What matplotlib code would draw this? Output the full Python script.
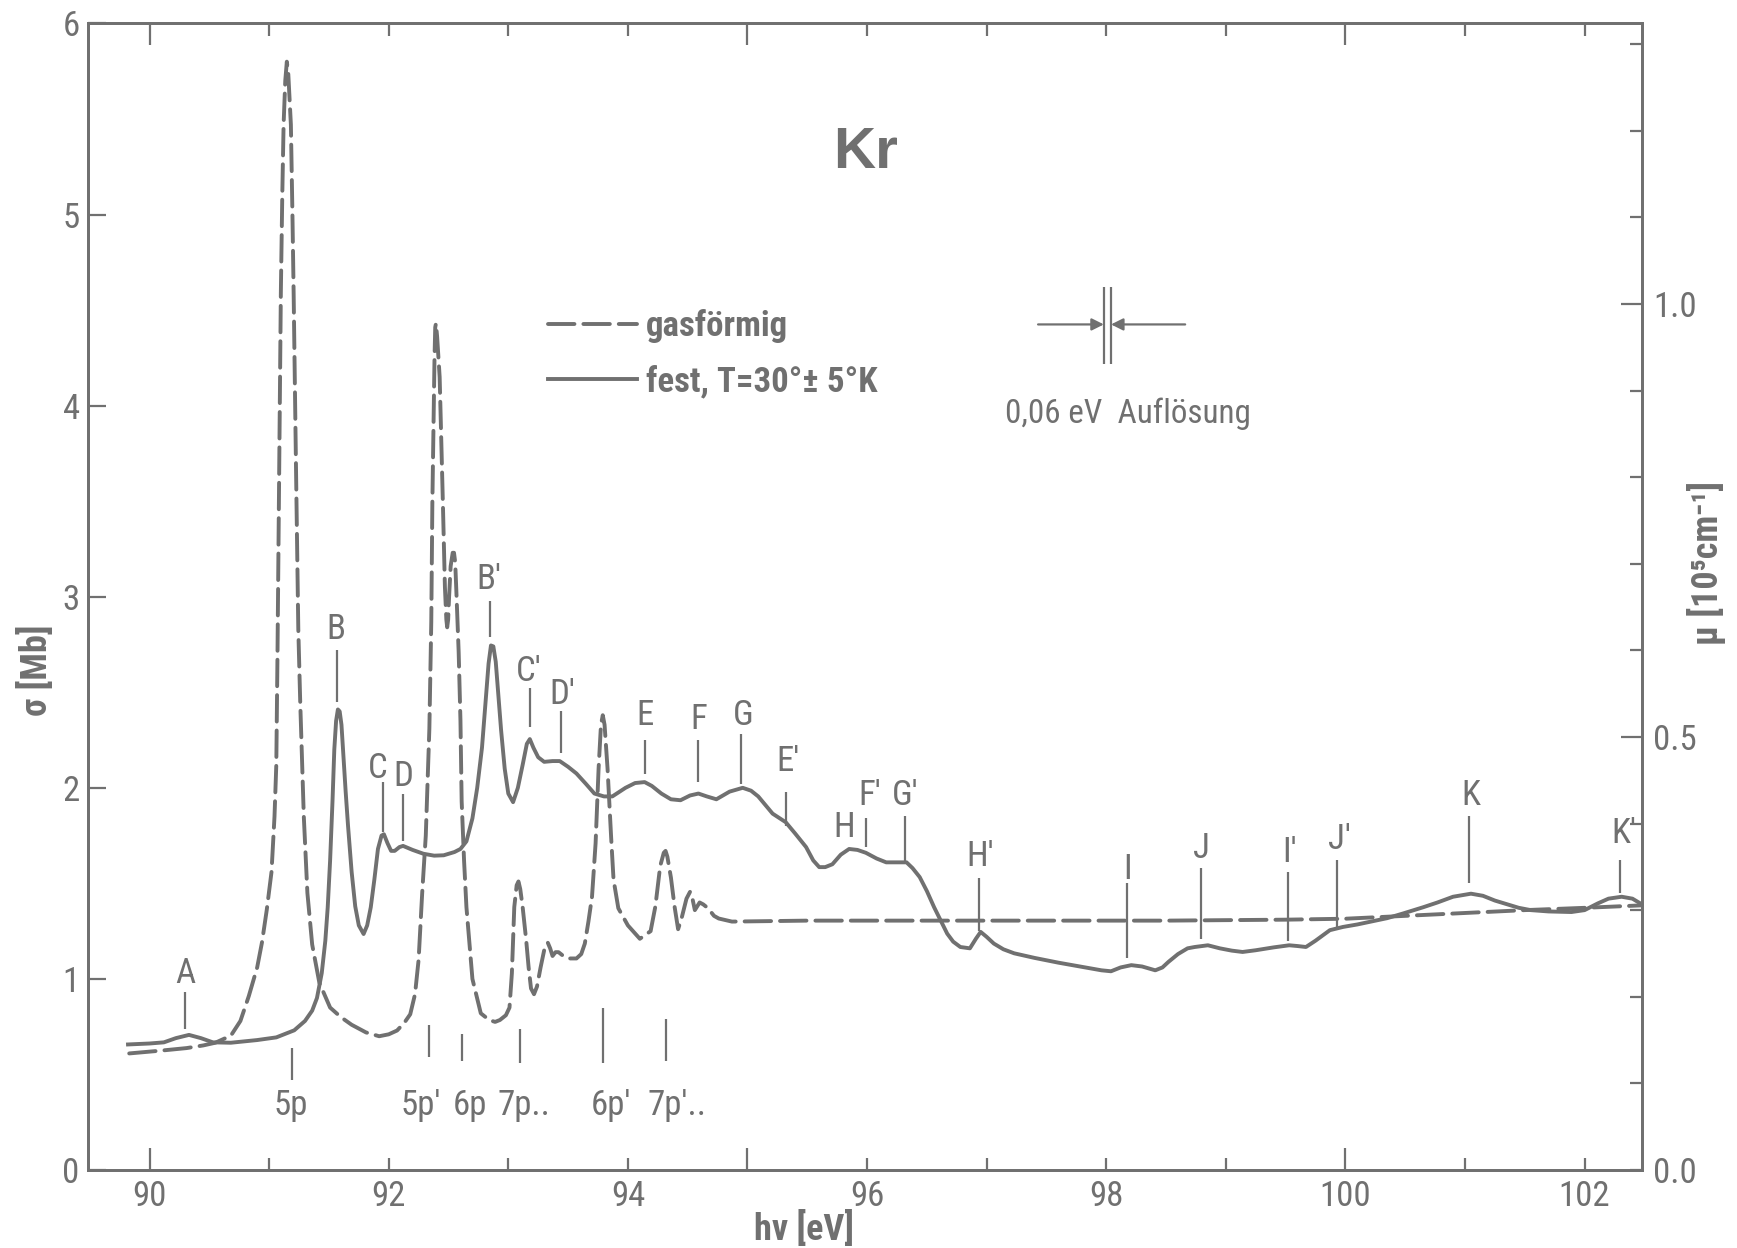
import matplotlib
matplotlib.use("Agg")
import matplotlib.pyplot as plt
import numpy as np
from matplotlib import font_manager
from matplotlib.font_manager import FontProperties
from matplotlib.textpath import TextPath

# ---------------- data ----------------
gas_E = [89.83, 90.10, 90.31, 90.45, 90.55, 90.68, 90.76, 90.83, 90.90, 90.94, 90.98, 91.02, 91.045, 91.06,
         91.07, 91.085, 91.098, 91.11, 91.121, 91.135, 91.148, 91.16, 91.17, 91.182, 91.195, 91.205, 91.224,
         91.244, 91.26, 91.29, 91.32, 91.36, 91.42, 91.51, 91.60, 91.69, 91.81, 91.92, 92.00, 92.07, 92.13,
         92.18, 92.22, 92.25, 92.28, 92.31, 92.34, 92.356, 92.365, 92.375, 92.383, 92.389, 92.395, 92.405,
         92.426, 92.453, 92.47, 92.482, 92.489, 92.497, 92.505, 92.518, 92.535, 92.546, 92.556, 92.565,
         92.585, 92.60, 92.61, 92.63, 92.65, 92.70, 92.77, 92.84, 92.89, 92.93, 92.98, 93.01, 93.03, 93.05,
         93.07, 93.085, 93.10, 93.12, 93.15, 93.17, 93.19, 93.215, 93.24, 93.27, 93.30, 93.33, 93.35, 93.37,
         93.395, 93.42, 93.46, 93.50, 93.57, 93.61, 93.64, 93.67, 93.70, 93.73, 93.755, 93.775, 93.79, 93.805,
         93.83, 93.86, 93.88, 93.92, 94.00, 94.10, 94.19, 94.23, 94.27, 94.30, 94.315, 94.33, 94.36, 94.39,
         94.42, 94.45, 94.49, 94.52, 94.54, 94.56, 94.58, 94.60, 94.63, 94.67, 94.72, 94.76, 94.87, 95.50,
         96.50, 97.50, 98.50, 99.50, 100.0, 100.5, 101.0, 101.5, 102.0, 102.48]
gas_S = [0.61, 0.625, 0.638, 0.652, 0.666, 0.703, 0.78, 0.91, 1.06, 1.19, 1.36, 1.56, 1.85, 2.12,
         2.70, 3.71, 4.59, 5.10, 5.47, 5.70, 5.80, 5.74, 5.62, 5.47, 5.00, 4.59, 3.71,
         2.83, 2.45, 1.85, 1.45, 1.18, 0.98, 0.85, 0.80, 0.76, 0.72, 0.70, 0.71, 0.73, 0.77,
         0.815, 0.92, 1.10, 1.45, 1.75, 2.31, 2.87, 3.49, 3.90, 4.25, 4.41, 4.43, 4.36,
         4.15, 3.49, 3.05, 2.88, 2.84, 2.88, 3.00, 3.16, 3.23, 3.23, 3.18, 3.04,
         2.71, 2.35, 1.93, 1.62, 1.375, 1.0, 0.82, 0.785, 0.775, 0.785, 0.81, 0.85, 1.03, 1.376,
         1.49, 1.51, 1.47, 1.376, 1.20, 1.06, 0.95, 0.92, 0.96, 1.06, 1.15, 1.19, 1.16, 1.12,
         1.14, 1.14, 1.12, 1.107, 1.107, 1.13, 1.185, 1.30, 1.43, 1.71, 2.10, 2.33, 2.38, 2.33,
         2.10, 1.74, 1.52, 1.37, 1.28, 1.21, 1.25, 1.38, 1.59, 1.66, 1.67, 1.64, 1.53, 1.38,
         1.26, 1.32, 1.42, 1.456, 1.42, 1.36, 1.38, 1.40, 1.39, 1.37, 1.33, 1.316, 1.30, 1.305,
         1.305, 1.305, 1.305, 1.31, 1.315, 1.33, 1.345, 1.36, 1.372, 1.385]

sol_E = [89.82, 90.00, 90.12, 90.22, 90.33, 90.43, 90.53, 90.68, 90.90, 91.06, 91.21, 91.30, 91.36, 91.40,
         91.44, 91.47, 91.49, 91.51, 91.53, 91.545, 91.56, 91.575, 91.59, 91.605, 91.62, 91.64, 91.66, 91.69,
         91.72, 91.75, 91.79, 91.82, 91.85, 91.88, 91.91, 91.94, 91.96, 91.99, 92.02, 92.05, 92.09, 92.12,
         92.20, 92.29, 92.38, 92.46, 92.55, 92.60, 92.65, 92.70, 92.74, 92.78, 92.81, 92.835, 92.855, 92.875,
         92.895, 92.915, 92.94, 92.97, 93.00, 93.04, 93.08, 93.12, 93.155, 93.18, 93.21, 93.25, 93.30, 93.37,
         93.43, 93.50, 93.57, 93.65, 93.72, 93.80, 93.87, 93.98, 94.06, 94.14, 94.20, 94.28, 94.36, 94.44,
         94.52, 94.59, 94.66, 94.74, 94.85, 94.96, 95.03, 95.09, 95.15, 95.21, 95.32, 95.40, 95.49, 95.55,
         95.60, 95.65, 95.71, 95.78, 95.85, 95.92, 95.99, 96.08, 96.16, 96.25, 96.33, 96.38, 96.44, 96.50,
         96.56, 96.62, 96.67, 96.72, 96.78, 96.86, 96.91, 96.95, 97.00, 97.06, 97.14, 97.23, 97.40, 97.60,
         97.80, 97.96, 98.04, 98.12, 98.21, 98.30, 98.41, 98.47, 98.52, 98.60, 98.68, 98.74, 98.85, 98.95,
         99.05, 99.14, 99.25, 99.40, 99.53, 99.60, 99.67, 99.75, 99.87, 99.98, 100.10, 100.20, 100.35,
         100.48, 100.65, 100.77, 100.90, 101.05, 101.15, 101.25, 101.33, 101.45, 101.55, 101.70, 101.89,
         102.00, 102.11, 102.20, 102.31, 102.40, 102.48]
sol_S = [0.657, 0.662, 0.668, 0.69, 0.707, 0.69, 0.668, 0.666, 0.68, 0.694, 0.731, 0.78, 0.834, 0.90,
         1.03, 1.20, 1.375, 1.62, 1.93, 2.20, 2.35, 2.41, 2.40, 2.33, 2.18, 1.98, 1.80, 1.56,
         1.38, 1.28, 1.235, 1.28, 1.375, 1.52, 1.68, 1.75, 1.757, 1.71, 1.67, 1.67, 1.69, 1.696,
         1.675, 1.655, 1.645, 1.647, 1.664, 1.68, 1.72, 1.84, 2.00, 2.21, 2.45, 2.65, 2.745, 2.74,
         2.66, 2.50, 2.30, 2.10, 1.97, 1.925, 2.00, 2.12, 2.23, 2.255, 2.21, 2.16, 2.136, 2.14,
         2.14, 2.11, 2.075, 2.02, 1.97, 1.955, 1.955, 2.00, 2.025, 2.03, 2.01, 1.97, 1.94, 1.935,
         1.96, 1.97, 1.955, 1.94, 1.98, 2.00, 1.985, 1.955, 1.91, 1.865, 1.82, 1.76, 1.69, 1.62,
         1.585, 1.585, 1.60, 1.65, 1.68, 1.675, 1.66, 1.63, 1.61, 1.61, 1.61, 1.58, 1.533, 1.46,
         1.376, 1.30, 1.237, 1.195, 1.167, 1.16, 1.21, 1.246, 1.22, 1.185, 1.155, 1.134, 1.11, 1.085,
         1.063, 1.045, 1.04, 1.06, 1.072, 1.065, 1.045, 1.06, 1.089, 1.13, 1.16, 1.167, 1.176, 1.16,
         1.148, 1.141, 1.15, 1.165, 1.176, 1.172, 1.167, 1.20, 1.255, 1.272, 1.285, 1.298, 1.318,
         1.342, 1.375, 1.40, 1.43, 1.446, 1.435, 1.41, 1.395, 1.372, 1.36, 1.353, 1.35,
         1.36, 1.395, 1.42, 1.43, 1.42, 1.39]

series_labels = ["gasförmig", "fest, T=30°± 5°K"]

# feature letters: name, energy, label height, tick line (low, high)
feat_names = ["A", "B", "C", "D", "B'", "C'", "D'", "E", "F", "G", "E'", "H", "F'", "G'", "H'",
              "I", "J", "I'", "J'", "K", "K'"]
feat_E = [90.30, 91.57, 91.95, 92.12, 92.85, 93.18, 93.44, 94.14, 94.59, 94.95, 95.32, 95.81, 95.99,
          96.32, 96.94, 98.17, 98.79, 99.52, 99.93, 101.03, 102.30]
feat_lab_E = [90.30, 91.56, 91.91, 92.12, 92.84, 93.17, 93.45, 94.14, 94.59, 94.96, 95.34, 95.81, 96.02,
              96.32, 96.95, 98.18, 98.80, 99.53, 99.95, 101.05, 102.33]
feat_lab = [1.03, 2.83, 2.10, 2.06, 3.09, 2.61, 2.49, 2.38, 2.36, 2.38, 2.14, 1.79, 1.96, 1.96, 1.64,
            1.57, 1.68, 1.66, 1.73, 1.96, 1.76]
feat_lo = [0.74, 2.45, 1.77, 1.72, 2.79, 2.32, 2.18, 2.07, 2.03, 2.02, 1.80, None, 1.69, 1.61, 1.25,
           1.11, 1.21, 1.20, 1.27, 1.50, 1.45]
feat_hi = [0.93, 2.72, 2.03, 1.97, 2.98, 2.52, 2.40, 2.25, 2.25, 2.28, 1.98, None, 1.84, 1.85, 1.53,
           1.50, 1.58, 1.56, 1.62, 1.85, 1.62]

# gas transitions
tr_names = ["5p", "5p'", "6p", "7p..", "6p'", "7p'.."]
tr_E = [91.19, 92.34, 92.61, 93.10, 93.79, 94.32]
tr_lab_E = [91.18, 92.27, 92.68, 93.13, 93.86, 94.41]
tr_hi = [0.64, 0.76, 0.71, 0.74, 0.85, 0.79]
tr_lo = [0.47, 0.59, 0.57, 0.56, 0.56, 0.57]

xticks = list(range(90, 103))
yticks = [0, 1, 2, 3, 4, 5, 6]
mu_ticks = [round(0.1 * i, 1) for i in range(14)]
mu_per_mb = 1.0 / 4.532

# ---------------- font choice (narrow lettering) ----------------
ents = font_manager.fontManager.ttflist
names = {e.name for e in ents}
narrow, stretch = None, "normal"
for n in ["Liberation Sans Narrow", "Roboto Condensed", "Open Sans Condensed", "DejaVu Sans Condensed",
          "Noto Sans Condensed", "Arial Narrow", "Nimbus Sans Narrow"]:
    if n in names:
        narrow = n
        break
if narrow is None:
    cond = [e for e in ents if str(e.stretch) in ("condensed", "semi-condensed", "extra-condensed",
                                                  "ultra-condensed")
            and "Mono" not in e.name and "Serif" not in e.name]
    for p in ["Roboto", "Open Sans", "Noto Sans", "DejaVu Sans", "Liberation Sans", "Lato", "Inter"]:
        hit = [e for e in cond if e.name == p]
        if hit:
            narrow, stretch = p, hit[0].stretch
            break
if narrow is None:
    narrow = "Liberation Sans" if "Liberation Sans" in names else "DejaVu Sans"
FAM = [narrow, "DejaVu Sans"]
plt.rcParams["font.family"] = FAM
plt.rcParams["font.stretch"] = stretch

# font size chosen so digits match the reference footprint (28 px high, 28 px for "90")
fp = FontProperties(family=FAM, stretch=stretch)
w1 = TextPath((0, 0), "90", size=1, prop=fp).get_extents().width
h1 = TextPath((0, 0), "0", size=1, prop=fp).get_extents().height
px_per_pt = 100 / 72
S_h = 28 / (px_per_pt * h1)
S_w = 28 / (px_per_pt * w1)
FS = float(np.clip(np.sqrt(S_h * S_w), 16, 27))

C = "#707070"

fig = plt.figure(figsize=(17.37, 12.48), dpi=100)
ax = fig.add_axes([0.0507, 0.0625, 0.8946, 0.9187])
ax.set_xlim(89.486, 102.48)
ax.set_ylim(0, 6)

ax.plot(gas_E, gas_S, color=C, lw=2.8, linestyle=(0, (6.8, 2.3)), label=series_labels[0],
        dash_capstyle="round", dash_joinstyle="round")
ax.plot(sol_E, sol_S, color=C, lw=2.8, label=series_labels[1], solid_joinstyle="round")

# feature markers
for n, e, el, yl, lo, hi in zip(feat_names, feat_E, feat_lab_E, feat_lab, feat_lo, feat_hi):
    if lo is not None:
        ax.vlines(e, lo, hi, color=C, lw=1.6)
    ax.text(el, yl, n, color=C, fontsize=FS, ha="center", va="center")

for n, e, el, lo, hi in zip(tr_names, tr_E, tr_lab_E, tr_lo, tr_hi):
    ax.vlines(e, lo, hi, color=C, lw=1.6)
    ax.text(el, 0.34, n, color=C, fontsize=FS, ha="center", va="center")

# title
ax.text(95.99, 5.32, "Kr", color=C, fontsize=42, fontweight="bold",
        family=["Liberation Sans", "DejaVu Sans"], fontstretch="normal", ha="center", va="center")

# resolution marker
ax.vlines([97.98, 98.04], 4.22, 4.62, color=C, lw=1.6)
ax.annotate("", xy=(97.98, 4.425), xytext=(97.43, 4.425),
            arrowprops=dict(arrowstyle="-|>", color=C, lw=1.6, mutation_scale=18, shrinkA=0, shrinkB=0))
ax.annotate("", xy=(98.04, 4.425), xytext=(98.66, 4.425),
            arrowprops=dict(arrowstyle="-|>", color=C, lw=1.6, mutation_scale=18, shrinkA=0, shrinkB=0))
ax.text(98.18, 3.96, "0,06 eV  Auflösung", color=C, fontsize=FS * 0.95, ha="center", va="center")

# legend
leg = ax.legend(loc="center left", bbox_to_anchor=(0.296, 0.712), frameon=False, fontsize=FS,
                handlelength=64 / FS, handletextpad=0.25, labelspacing=0.6, borderpad=0, borderaxespad=0)
for t in leg.get_texts():
    t.set_color(C)
    t.set_fontweight("bold")

# axes / ticks
for sp in ax.spines.values():
    sp.set_color(C)
    sp.set_linewidth(2.0)
ax.set_xticks(xticks)
ax.set_xticklabels([str(v) if v % 2 == 0 else "" for v in xticks])
ax.tick_params(axis="x", direction="in", length=9, width=1.6, color=C, top=True, bottom=True,
               labelcolor=C, labelsize=FS, pad=7)
for t, v in zip(ax.xaxis.get_major_ticks(), xticks):
    if v % 5 == 0:
        t.tick1line.set_markersize(16)
        t.tick2line.set_markersize(16)
ax.set_yticks(yticks)
ax.set_yticklabels([str(v) for v in yticks])
ax.tick_params(axis="y", direction="in", length=13, width=1.6, color=C, left=True, right=False,
               labelcolor=C, labelsize=FS, pad=6)

ax2 = ax.twinx()
ax2.set_ylim(0, 6 * mu_per_mb)
for sp in ax2.spines.values():
    sp.set_color(C)
    sp.set_linewidth(2.0)
ax2.set_yticks(mu_ticks)
ax2.set_yticklabels([f"{v:.1f}" if abs(v * 10 % 5) < 1e-6 else "" for v in mu_ticks])
ax2.tick_params(axis="y", direction="in", length=9, width=1.6, color=C, labelcolor=C,
                labelsize=FS, pad=8)
for t, v in zip(ax2.yaxis.get_major_ticks(), mu_ticks):
    if abs(v - 0.5) < 1e-6 or abs(v - 1.0) < 1e-6:
        t.tick2line.set_markersize(15)

# axis labels
ax.text(-0.033, 0.436, "σ [Mb]", transform=ax.transAxes, rotation=90, color=C, fontsize=FS + 1,
        fontweight="bold", ha="center", va="center")
ax.text(1.0418, 0.529, "μ [10⁵cm⁻¹]", transform=ax.transAxes, rotation=90, color=C, fontsize=FS + 1,
        fontweight="bold", ha="center", va="center")
ax.text(0.461, -0.0515, "hν [eV]", transform=ax.transAxes, color=C, fontsize=FS + 1,
        fontweight="bold", ha="center", va="center")

fig.savefig("out.png", dpi=100, facecolor="white")
